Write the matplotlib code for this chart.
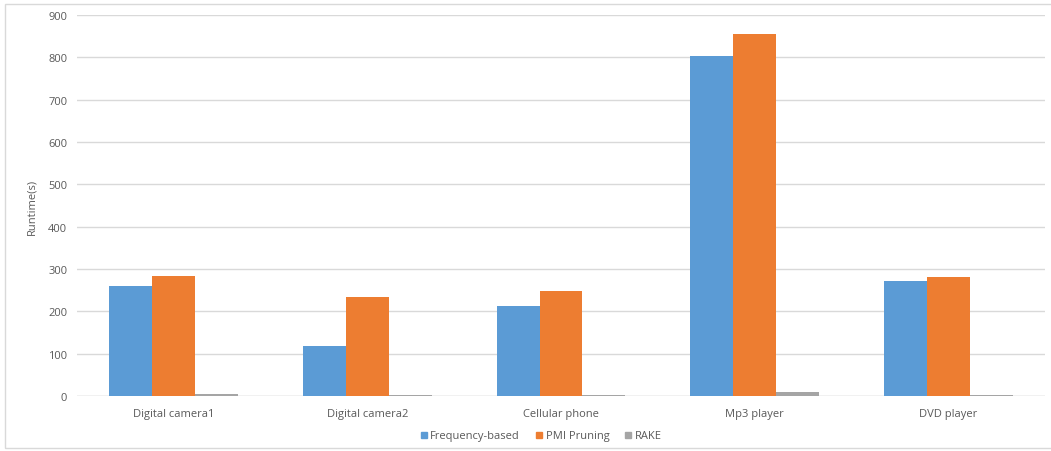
import numpy as np
import matplotlib
matplotlib.use('Agg')
from matplotlib import pyplot as plt
from matplotlib.patches import Rectangle
from matplotlib.lines import Line2D

categories = ['Digital camera1', 'Digital camera2', 'Cellular phone', 'Mp3 player', 'DVD player']
series_names = ['Frequency-based', 'PMI Pruning', 'RAKE']
frequency_based = [260, 118, 213, 803, 271]
pmi_pruning = [283, 234, 248, 855, 281]
rake = [5, 2, 3, 10, 3]
yticks = [0, 100, 200, 300, 400, 500, 600, 700, 800, 900]

COLORS = ['#5b9bd5', '#ed7d31', '#a5a5a5']
TEXT = '#595959'

plt.rcParams['font.family'] = ['Open Sans', 'DejaVu Sans']

fig = plt.figure(figsize=(10.51, 4.52), dpi=100)
ax = fig.add_axes([77 / 1051, 1 - 397 / 452, 968 / 1051, 381 / 452])

x = np.arange(len(categories))
width = 0.222
for (i, (vals, col)) in enumerate(zip([frequency_based, pmi_pruning, rake], COLORS)):
    ax.bar(x + (i - 1) * width, vals, width, color=col, label=series_names[i], zorder=3)

ax.set_xlim(-0.5, len(categories) - 0.5)
ax.set_ylim(0, 900)
ax.set_yticks(yticks)
ax.set_xticks(x)
ax.set_xticklabels(categories)
ax.tick_params(length=0, labelsize=8, colors=TEXT, pad=7)
ax.tick_params(axis='x', pad=9)
ax.grid(axis='y', color='#d9d9d9', linewidth=1, zorder=0)
for s in ax.spines.values():
    s.set_visible(False)
ax.axhline(0, color='#d9d9d9', linewidth=1, zorder=2)
ax.set_ylabel('Runtime(s)', fontsize=8, color=TEXT, labelpad=8)

handles = [Line2D([], [], marker='s', linestyle='', markersize=5, color=c) for c in COLORS]
fig.legend(handles, series_names, loc='center', bbox_to_anchor=(540 / 1051, 1 - 437 / 452),
           ncol=3, frameon=False, fontsize=8, labelcolor=TEXT, handletextpad=0.1,
           columnspacing=1.2, handlelength=1.0)

# outer chart frame
fig.patches.append(Rectangle((5 / 1051, 3 / 452), 1.05, 1 - 8 / 452, transform=fig.transFigure,
                             fill=False, edgecolor='#d9d9d9', linewidth=1))

fig.savefig('out.png', dpi=100)
